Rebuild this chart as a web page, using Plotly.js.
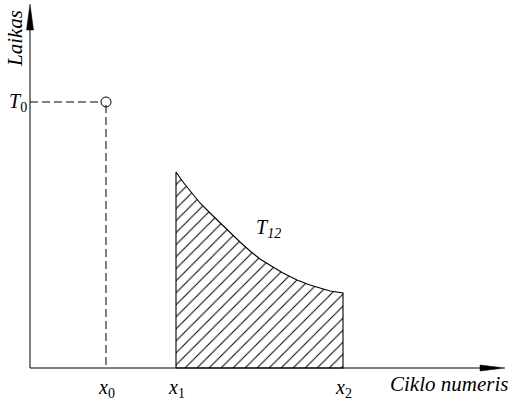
<!DOCTYPE html>
<html>
<head>
<meta charset="utf-8">
<script src="https://cdn.plot.ly/plotly-3.0.1.min.js"></script>
</head>
<body style="margin:0">
<div id="chart"></div>
<script>
// Values (arbitrary units: origin at the axes crossing)
const pointX = [76];          // x0
const pointY = [266];         // T0
const regionX = [146, 153, 163, 170, 180, 187, 197, 210, 220, 230, 243, 253, 267, 280, 290, 300, 313]; // x1 .. x2
const regionY = [196, 186, 174, 165, 155, 148, 138, 126, 117, 109, 101, 95, 88, 83, 80, 77, 75];
const tickX = [76, 146, 313];
const tickLabels = ['<i>x</i><sub>0</sub>', '<i>x</i><sub>1</sub>', '<i>x</i><sub>2</sub>'];
const xAxisTitle = 'Ciklo numeris';
const yAxisTitle = 'Laikas';
const pointLabel = '<i>T</i><sub>0</sub>';
const regionLabel = '<i>T<sub>12</sub></i>';

const polyX = [regionX[0]].concat(regionX, [regionX[regionX.length - 1], regionX[0]]);
const polyY = [0].concat(regionY, [0, 0]);

const traces = [
  {
    x: polyX, y: polyY, type: 'scatter', mode: 'lines',
    fill: 'toself', fillcolor: 'white',
    fillpattern: {shape: '/', fgcolor: '#000', bgcolor: '#fff', size: 8.5, solidity: 0.12},
    line: {color: '#000', width: 1.1},
    hoverinfo: 'skip', showlegend: false
  },
  {
    x: [0, pointX[0] - 5], y: [pointY[0], pointY[0]], type: 'scatter', mode: 'lines',
    line: {color: '#000', width: 1, dash: '8px,4px'}, showlegend: false, hoverinfo: 'skip'
  },
  {
    x: [pointX[0], pointX[0]], y: [pointY[0] - 3, 0], type: 'scatter', mode: 'lines',
    line: {color: '#000', width: 1, dash: '8px,4px'}, showlegend: false, hoverinfo: 'skip'
  },
  {
    x: pointX, y: pointY, type: 'scatter', mode: 'markers',
    marker: {symbol: 'circle-open', size: 10, color: '#000', line: {width: 1, color: '#000'}},
    showlegend: false, hoverinfo: 'skip'
  }
];

const annotations = tickX.map((v, i) => ({
  x: v, y: -20, xref: 'x', yref: 'y', text: tickLabels[i], showarrow: false,
  xanchor: 'center', yanchor: 'middle',
  font: {family: 'Liberation Serif', size: 20, color: '#000'}
}));
annotations.push(
  {x: 419, y: -16, xref: 'x', yref: 'y', text: '<i>' + xAxisTitle + '</i>', showarrow: false,
   xanchor: 'center', yanchor: 'middle', font: {family: 'Liberation Serif', size: 21, color: '#000'}},
  {x: -15, y: 329, xref: 'x', yref: 'y', text: '<i>' + yAxisTitle + '</i>', showarrow: false,
   textangle: -90, xanchor: 'center', yanchor: 'middle', font: {family: 'Liberation Serif', size: 21, color: '#000'}},
  {x: -12, y: pointY[0], xref: 'x', yref: 'y', text: pointLabel, showarrow: false,
   xanchor: 'center', yanchor: 'middle', font: {family: 'Liberation Serif', size: 20, color: '#000'}},
  {x: 238, y: 140, xref: 'x', yref: 'y', text: regionLabel, showarrow: false,
   xanchor: 'center', yanchor: 'middle', font: {family: 'Liberation Serif', size: 20, color: '#000'}}
);

const shapes = [
  {type: 'line', xref: 'x', yref: 'y', x0: 0, y0: 0, x1: 455, y1: 0, line: {color: '#000', width: 1}},
  {type: 'line', xref: 'x', yref: 'y', x0: 0, y0: 0, x1: 0, y1: 340, line: {color: '#000', width: 1}},
  {type: 'path', xref: 'x', yref: 'y', path: 'M 450,3 L 475,0 L 450,-3 Z', fillcolor: '#000', line: {color: '#000', width: 0.5}},
  {type: 'path', xref: 'x', yref: 'y', path: 'M -3.5,338 L 0,364 L 3.5,338 Z', fillcolor: '#000', line: {color: '#000', width: 0.5}}
];

const layout = {
  width: 508, height: 400,
  margin: {l: 0, r: 0, t: 0, b: 0},
  font: {family: 'Liberation Serif', color: '#000'},
  xaxis: {range: [-30, 478], visible: false},
  yaxis: {range: [-32, 368], visible: false},
  showlegend: false,
  annotations: annotations,
  shapes: shapes
};

Plotly.newPlot('chart', traces, layout, {displayModeBar: false});
</script>
</body>
</html>
